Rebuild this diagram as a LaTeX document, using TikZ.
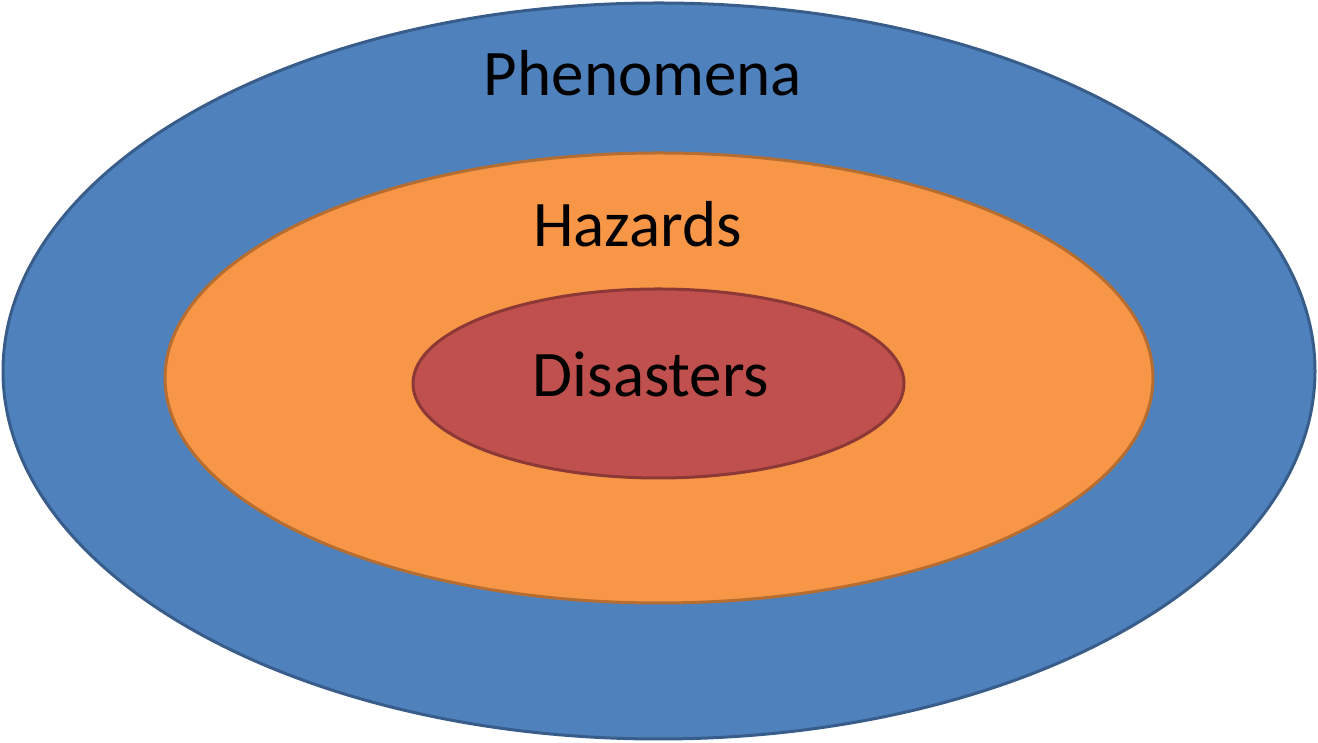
\documentclass[tikz,border=0pt]{standalone}
\usepackage{fontspec}
\setmainfont{Carlito}
\usepackage{tikz}
\usetikzlibrary{positioning}
\definecolor{phenblue}{HTML}{4F81BD}
\definecolor{phenline}{HTML}{385D8A}
\definecolor{hazorange}{HTML}{F79646}
\definecolor{hazline}{HTML}{B66D31}
\definecolor{disred}{HTML}{C0504D}
\definecolor{disline}{HTML}{8C3836}

\begin{document}
\begin{tikzpicture}[
  x=0.5pt, y=0.5pt,
  every node/.style={font=\fontsize{32.5}{39}\selectfont, inner sep=0pt, anchor=base},
  ring/.style={line width=1.5pt},
  phen/.style={ring, fill=phenblue, draw=phenline},
  haz/.style={ring, fill=hazorange, draw=hazline},
  dis/.style={ring, fill=disred, draw=disline}
]
\useasboundingbox (0,0) rectangle (1318,743);
% Nested sets, outermost first.
\draw[phen] (659,372) ellipse [x radius=656, y radius=368];
\draw[haz] (659,365) ellipse [x radius=494, y radius=225];
\draw[dis] (658.5,359.5) ellipse [x radius=245.5, y radius=94.5];

% Labels.
\node (phenomena) at (643,647) {Phenomena};
\node (hazards) at (637.5,496) {Hazards};
\node (disasters) at (651,346) {Disasters};
\end{tikzpicture}
\end{document}
